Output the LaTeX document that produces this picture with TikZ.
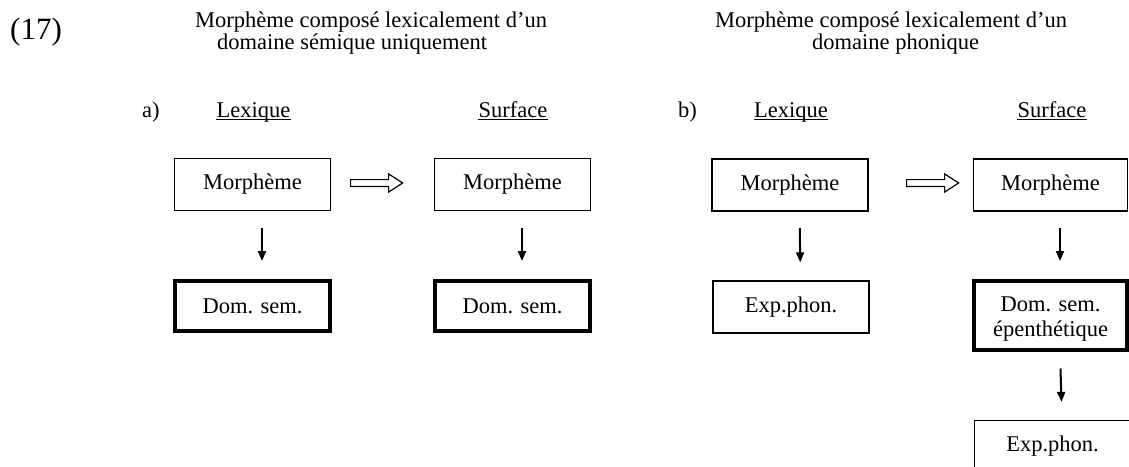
\documentclass[tikz,border=0pt]{standalone}
\usepackage{fontspec}
\setmainfont{Liberation Serif}
\usetikzlibrary{arrows.meta, shapes.arrows}
\tikzstyle{boxthin}=[shape=rectangle, draw=black, line width=1.3pt, inner sep=0pt, minimum width=156pt, minimum height=52pt, align=center]
\tikzstyle{boxthick}=[shape=rectangle, draw=black, line width=4pt, inner sep=0pt, minimum width=155pt, minimum height=50pt, align=center]
\tikzstyle{hollow}=[single arrow, draw=black, line width=1.2pt, inner xsep=0pt, inner ysep=2.8pt, minimum height=52pt, single arrow head extend=5.7pt, single arrow tip angle=66]
\tikzstyle{downarr}=[line width=2pt, -{Triangle[length=10pt,width=8pt]}, shorten <=16.5pt, shorten >=18pt]
\tikzstyle{txt}=[inner sep=0pt]

\begin{document}
\begin{tikzpicture}[x=1pt, y=-1pt, font=\fontsize{22.5}{25}\selectfont]
\useasboundingbox (0,0) rectangle (1129,466);
\clip (0,0) rectangle (1129,466);
%titles
\node[txt, anchor=base west, font=\fontsize{31}{31}\selectfont] (num) at (10,39.5) {(17)};
\node[txt, anchor=base west] (titA1) at (195,27.5) {Morphème composé lexicalement d’un};
\node[txt, anchor=base west] (titA2) at (217,49) {domaine sémique uniquement};
\node[txt, anchor=base west] (titB1) at (715,27.5) {Morphème composé lexicalement d’un};
\node[txt, anchor=base west] (titB2) at (812,49) {domaine phonique};
%column heads
\node[txt, anchor=base west] (labA) at (142,117) {a)};
\node[txt, anchor=base west] (labB) at (678,117) {b)};
\node[txt, anchor=base] (lexA) at (253.5,117) {Lexique};
\node[txt, anchor=base] (surA) at (513,117) {Surface};
\node[txt, anchor=base] (lexB) at (791,117) {Lexique};
\node[txt, anchor=base] (surB) at (1052,117) {Surface};
\foreach \n in {lexA,surA,lexB,surB}{
\draw[line width=1.2pt] ([yshift=-2.6pt]\n.base west) -- ([yshift=-2.6pt]\n.base east);
}
%a) boxes
\node[boxthin] (morA) at (252.5,184.5) {Morphème};
\node[boxthin] (morA2) at (512.5,184.5) {Morphème};
\node[boxthick] (semA) at (252.5,306) {Dom. sem.};
\node[boxthick] (semA2) at (512.5,306) {Dom. sem.};
%b) boxes
\node[boxthin] (morB) at (790,185) {Morphème};
\node[boxthin, minimum width=154pt] (morB2) at (1050.5,185) {Morphème};
\node[boxthin] (expB) at (791,307) {Exp.phon.};
\node[boxthick, minimum width=153pt, minimum height=69pt] (semB2) at (1050.5,315.5) {\rule{0pt}{22pt}Dom. sem.\\épenthétique};
\node[boxthin] (expB2) at (1052.5,446.5) {Exp.phon.};
%arrows
\node[hollow] (impA) at (374,183) {};
\node[hollow] (impB) at (930,183) {};
\draw[downarr] ([xshift=9.5pt]morA.south) -- ([xshift=9.5pt]semA.north);
\draw[downarr] ([xshift=9.5pt]morA2.south) -- ([xshift=9.5pt]semA2.north);
\draw[downarr] ([xshift=9.5pt]morB.south) -- ([xshift=9.5pt]expB.north);
\draw[downarr] ([xshift=9.5pt]morB2.south) -- ([xshift=9.5pt]semB2.north);
\draw[downarr] ([xshift=9.5pt]semB2.south) -- ([xshift=9.5pt]expB2.north);
\end{tikzpicture}
\end{document}
